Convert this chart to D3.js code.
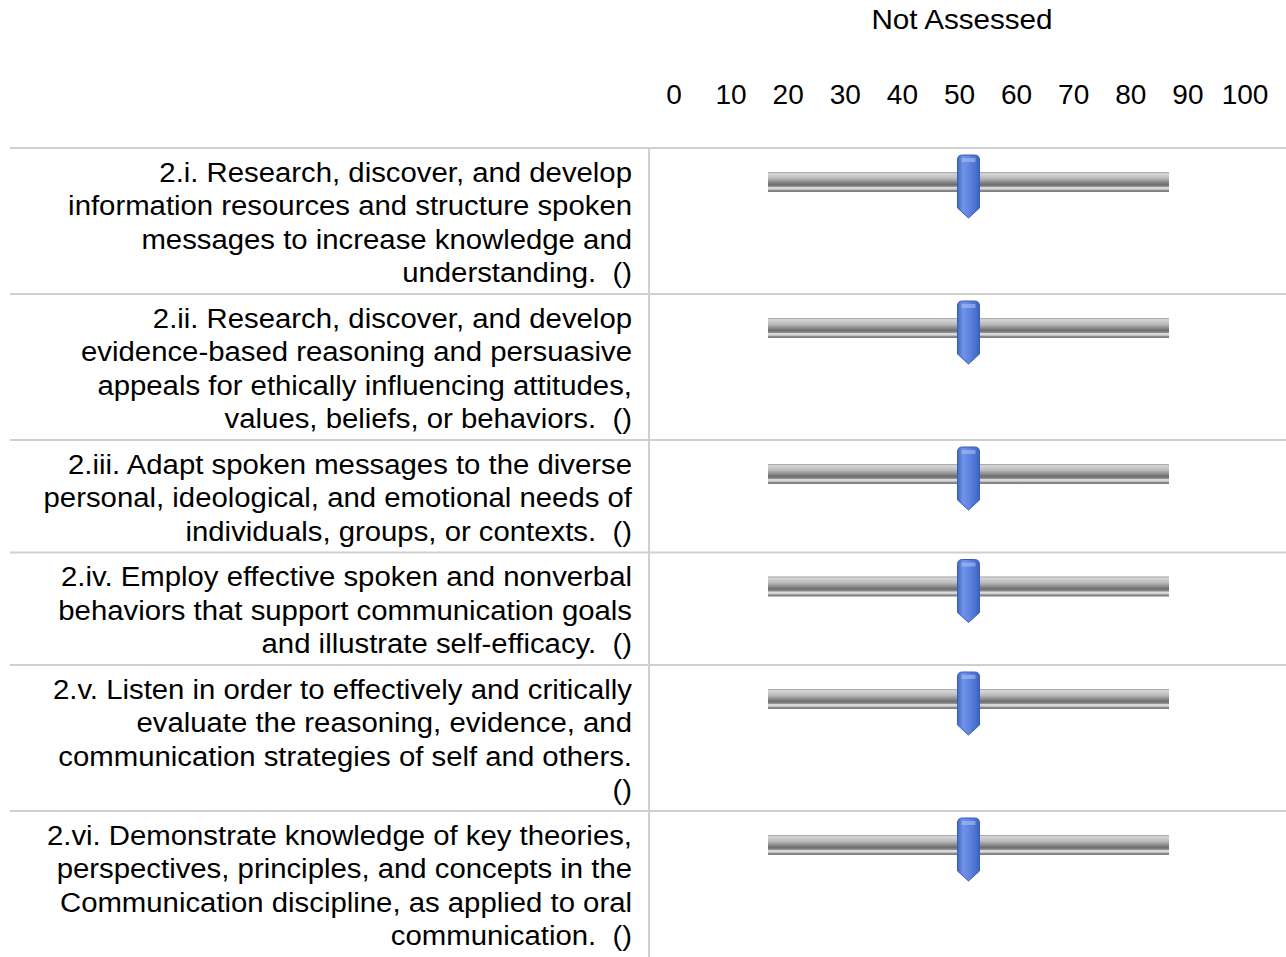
<!DOCTYPE html>
<html>
<head>
<meta charset="utf-8">
<script src="https://cdn.jsdelivr.net/npm/d3@7"></script>
<style>
  body { margin: 0; background: #fff; }
  svg { display: block; font-family: "Liberation Sans", Arial, sans-serif; }
  text { white-space: pre; }
</style>
</head>
<body>
<svg id="chart" width="1286" height="957"></svg>
<script>
// title of the single column
var columnTitle = 'Not Assessed';

// tick labels along the top
var tickValues = [0, 10, 20, 30, 40, 50, 60, 70, 80, 90, 100];

// outcome labels, wrapped the way the reference shows them
var outcomes = [
  ['2.i. Research, discover, and develop', 'information resources and structure spoken', 'messages to increase knowledge and', 'understanding.  ()'],
  ['2.ii. Research, discover, and develop', 'evidence-based reasoning and persuasive', 'appeals for ethically influencing attitudes,', 'values, beliefs, or behaviors.  ()'],
  ['2.iii. Adapt spoken messages to the diverse', 'personal, ideological, and emotional needs of', 'individuals, groups, or contexts.  ()'],
  ['2.iv. Employ effective spoken and nonverbal', 'behaviors that support communication goals', 'and illustrate self-efficacy.  ()'],
  ['2.v. Listen in order to effectively and critically', 'evaluate the reasoning, evidence, and', 'communication strategies of self and others.', '()'],
  ['2.vi. Demonstrate knowledge of key theories,', 'perspectives, principles, and concepts in the', 'Communication discipline, as applied to oral', 'communication.  ()']
];

// slider values (all not assessed -> midpoint)
var values = [50, 50, 50, 50, 50, 50];

var svg = d3.select('#chart');
var lineH = 33.5, rowPad = 12, tableTop = 148, divX = 649, labelX = 632;

// scale for the tick labels in the header
var x = d3.scaleLinear().domain([0, 100]).range([674, 1245]);
// scale for the slider track
var xs = d3.scaleLinear().domain([0, 100]).range([768, 1169]);

var defs = svg.append('defs');
var tg = defs.append('linearGradient').attr('id', 'track').attr('x1', 0).attr('y1', 0).attr('x2', 0).attr('y2', 1);
[[0, '#9a9a9a'], [0.08, '#d6d6d6'], [0.3, '#bdbdbd'], [0.62, '#6e6e6e'], [0.72, '#8a8a8a'], [0.78, '#e2e2e2'], [0.86, '#cfcfcf'], [0.92, '#8c8c8c'], [1, '#7a7a7a']]
  .forEach(function(s) { tg.append('stop').attr('offset', s[0]).attr('stop-color', s[1]); });

var bg = defs.append('linearGradient').attr('id', 'thumb').attr('x1', 0).attr('y1', 0).attr('x2', 1).attr('y2', 0);
[[0, '#4268c8'], [0.25, '#7093e8'], [0.55, '#5f84e0'], [1, '#3d62c0']]
  .forEach(function(s) { bg.append('stop').attr('offset', s[0]).attr('stop-color', s[1]); });

// header
svg.append('text')
  .attr('transform', 'translate(962,29) scale(1.04,1)')
  .attr('text-anchor', 'middle')
  .attr('font-size', 28.5)
  .attr('fill', '#000')
  .text(columnTitle);

svg.append('g').selectAll('text')
  .data(tickValues)
  .enter().append('text')
  .attr('x', function(d) { return x(d); })
  .attr('y', 104)
  .attr('text-anchor', 'middle')
  .attr('font-size', 28)
  .attr('fill', '#000')
  .text(function(d) { return d; });

// row layout
var rows = [], y0 = tableTop;
outcomes.forEach(function(lines, i) {
  var h = lines.length * lineH + rowPad;
  rows.push({ lines: lines, top: y0, h: h, value: values[i] });
  y0 += h;
});

var grid = svg.append('g');
grid.selectAll('line.h')
  .data(rows)
  .enter().append('line')
  .attr('class', 'h')
  .attr('x1', 10).attr('x2', 1286)
  .attr('y1', function(d) { return d.top; })
  .attr('y2', function(d) { return d.top; })
  .attr('stroke', '#cfcfcf').attr('stroke-width', 2);

grid.append('line')
  .attr('x1', divX).attr('x2', divX)
  .attr('y1', tableTop).attr('y2', 957)
  .attr('stroke', '#cfcfcf').attr('stroke-width', 2);

var row = svg.append('g').selectAll('g.row')
  .data(rows)
  .enter().append('g')
  .attr('class', 'row')
  .attr('transform', function(d) { return 'translate(0,' + d.top + ')'; });

row.append('text')
  .attr('transform', 'translate(' + labelX + ',0) scale(1.048,1)')
  .attr('text-anchor', 'end')
  .attr('font-size', 28)
  .attr('fill', '#000')
  .selectAll('tspan')
  .data(function(d) { return d.lines; })
  .enter().append('tspan')
  .attr('x', 0)
  .attr('y', function(d, i) { return 34 + i * lineH; })
  .text(function(d) { return d; });

// slider track
row.append('rect')
  .attr('x', xs(0))
  .attr('y', 24)
  .attr('width', xs(100) - xs(0))
  .attr('height', 20)
  .attr('fill', 'url(#track)');

// slider thumb: rounded top, pointed bottom
row.append('path')
  .attr('transform', function(d) { return 'translate(' + xs(d.value) + ',0)'; })
  .attr('d', 'M-11,12 Q-11,7 -6,7 L6,7 Q11,7 11,12 L11,60 L0,70 L-11,60 Z')
  .attr('fill', 'url(#thumb)')
  .attr('stroke', '#3a5cb5')
  .attr('stroke-width', 1);

row.append('path')
  .attr('transform', function(d) { return 'translate(' + xs(d.value) + ',0)'; })
  .attr('d', 'M-7,10 L7,10 L7,14 L-7,14 Z')
  .attr('fill', '#a9bff2')
  .attr('opacity', 0.6);
</script>
</body>
</html>
